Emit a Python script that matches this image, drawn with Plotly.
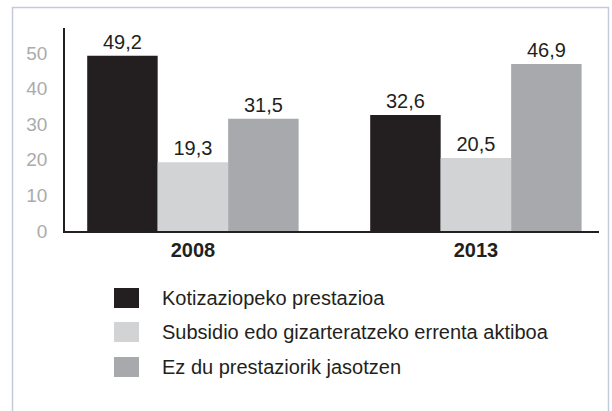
import plotly.graph_objects as go

years = ["2008", "2013"]
series_names = [
    "Kotizaziopeko prestazioa",
    "Subsidio edo gizarteratzeko errenta aktiboa",
    "Ez du prestaziorik jasotzen",
]
values_kotizazio = [49.2, 32.6]
values_subsidio = [19.3, 20.5]
values_ez = [31.5, 46.9]
colors = ["#231f20", "#d1d3d4", "#a7a9ac"]
y_ticks = [0, 10, 20, 30, 40, 50]

W, H = 612, 411
L, R, T, B = 65, 13, 28, 180
pw, ph = W - L - R, H - T - B
FONT = "Liberation Sans, Arial"


def px_x(x):
    return (x - L) / pw


def px_y(y):
    return (H - B - y) / ph


fig = go.Figure()
x_pos = list(range(len(years)))
for name, vals, col in zip(series_names, [values_kotizazio, values_subsidio, values_ez], colors):
    fig.add_trace(go.Bar(
        x=x_pos, y=vals, name=name, marker=dict(color=col, line=dict(width=0)),
        text=[f"{v:.1f}".replace(".", ",") for v in vals],
        textposition="outside", cliponaxis=False,
        textfont=dict(family=FONT, size=20, color="#231f20"),
        showlegend=False,
    ))

shapes = [
    # outer frame
    dict(type="rect", xref="paper", yref="paper",
         x0=px_x(12.5), x1=px_x(608.5), y0=px_y(7.5), y1=px_y(430),
         line=dict(color="#c5cadb", width=1.5), fillcolor="rgba(0,0,0,0)", layer="below"),
]
annotations = []
leg_y = [298, 332, 367]
for name, col, yy in zip(series_names, colors, leg_y):
    shapes.append(dict(type="rect", xref="paper", yref="paper",
                       x0=px_x(114), x1=px_x(139), y0=px_y(yy - 10), y1=px_y(yy + 10),
                       fillcolor=col, line=dict(width=0)))
    annotations.append(dict(xref="paper", yref="paper", x=px_x(160), y=px_y(yy),
                            xanchor="left", yanchor="middle", showarrow=False, text=name,
                            font=dict(family=FONT, size=20, color="#231f20")))

fig.update_layout(
    width=W, height=H,
    margin=dict(l=L, r=R, t=T, b=B),
    paper_bgcolor="white", plot_bgcolor="white",
    barmode="group", bargap=0.253, bargroupgap=0,
    xaxis=dict(range=[-0.452, 1.435], tickvals=x_pos, ticktext=years,
               showgrid=False, zeroline=False, showline=True, linecolor="#231f20", linewidth=1.5,
               ticks="", tickfont=dict(family=FONT, size=20, color="#231f20", weight="bold")),
    yaxis=dict(range=[0, 57], tickvals=y_ticks, showgrid=False, zeroline=False,
               showline=True, linecolor="#231f20", linewidth=1.5, ticks="",
               ticklabelstandoff=12,
               tickfont=dict(family=FONT, size=19, color="#ababab")),
    shapes=shapes, annotations=annotations,
    font=dict(family=FONT),
)

fig.write_html("out.html", config={"displayModeBar": False},
               post_script="document.body.style.margin='0';")
